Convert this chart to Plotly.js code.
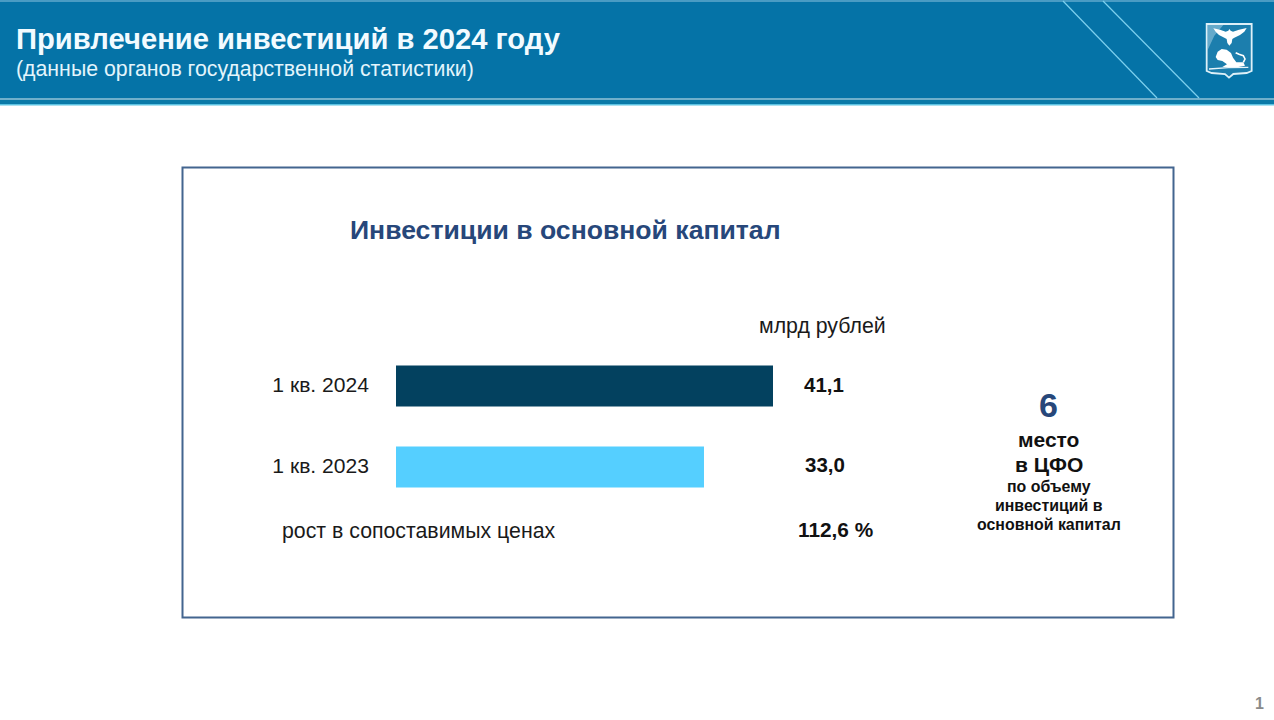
<!DOCTYPE html>
<html><head><meta charset="utf-8">
<style>html,body{margin:0;padding:0;background:#fff;overflow:hidden}#c{width:1274px;height:720px}</style>
<script src="https://cdn.plot.ly/plotly-3.0.1.min.js"></script></head>
<body><div id="c"></div>
<script>
const categories = ["1 кв. 2023", "1 кв. 2024"];
const values = [33.0, 41.1];
const valueLabels = ["33,0", "41,1"];
const barColors = ["#55CFFF", "#03415F"];
const growthLabel = "рост в сопоставимых ценах";
const growthValue = "112,6 %";
const unitLabel = "млрд рублей";
const rankValue = "6";
const W = 1274, H = 720;
const FONT = '"Liberation Sans", Arial, sans-serif';
const X0 = 396, X1 = 773, AXIS_MIN = -3.15;
const pxPerUnit = (X1 - X0) / (values[1] - AXIS_MIN);
const AXIS_MAX = AXIS_MIN + (1000 - X0) / pxPerUnit;
const px = x => x / W, py = y => 1 - y / H;
const rect = (x0, y0, x1, y1, fill, line) => ({type:'rect', xref:'paper', yref:'paper', layer:'below',
  x0:px(x0), x1:px(x1), y0:py(y1), y1:py(y0), fillcolor:fill, line: line || {width:0}});
const seg = (x0, y0, x1, y1, color, width) => ({type:'line', xref:'paper', yref:'paper', layer:'above',
  x0:px(x0), x1:px(x1), y0:py(y0), y1:py(y1), line:{color, width}});
// emblem outlines are given in a small local grid, 3 units per pixel
const em = p => [1195 + p[0] / 3, 15 + p[1] / 3];
const d = pts => 'M ' + pts.map(em).map(p => px(p[0]) + ' ' + py(p[1])).join(' L ');
const path = (pts, fill, lw, lc) => ({type:'path', xref:'paper', yref:'paper', layer:'above',
  path: d(pts) + ' Z', fillcolor: fill, line:{width: lw || 0, color: lc || fill}});
const stroke = (pts, color, lw) => ({type:'path', xref:'paper', yref:'paper', layer:'above',
  path: d(pts), fillcolor:'rgba(0,0,0,0)', line:{width: lw, color}});
const note = (x, y, text, size, color, bold, anchor) => ({xref:'paper', yref:'paper', x:px(x), y:py(y),
  text: bold ? '<b>' + text + '</b>' : text, showarrow:false, xanchor:anchor || 'center', yanchor:'middle',
  font:{family:FONT, size, color}});

const shapes = [
  rect(0, 0, W, 104, '#0573A7'),
  rect(0, 0, W, 2, '#4A9CC4'),
  rect(0, 98, W, 100, '#6FAFCB'),
  rect(0, 100, W, 104, '#0A7AA8'),
  rect(0, 104, W, 105.5, '#5CC3E2'),
  rect(182.5, 167.5, 1173.5, 617.5, 'rgba(0,0,0,0)', {color:'#43658F', width:2}),
  seg(1063, 1, 1157, 98, '#7DD0EE', 1.2),
  seg(1103, 1, 1199, 98, '#7DD0EE', 1.2),
  // coat of arms
  path([[35,27],[170,27],[170,168],[155,174],[115,177],[102,188],[90,177],[50,174],[35,168]], '#1C7EAD', 1.8, '#DDF0F8'),
  path([[38,30],[85,30],[58,62],[38,105]], 'rgba(190,225,240,0.45)'),
  path([[55,40],[75,44],[92,50],[100,47],[103,42],[107,47],[114,50],[132,44],[155,39],[148,50],[135,60],[118,68],[112,72],[110,84],[103,92],[97,84],[95,72],[88,68],[72,60],[62,50]], '#FFFFFF'),
  path([[62,126],[68,110],[80,102],[95,104],[108,114],[114,128],[124,142],[145,142],[150,152],[130,156],[82,156],[96,148],[82,138],[68,135]], '#FFFFFF'),
  stroke([[145,142],[150,132],[145,122],[132,118],[122,113]], '#FFFFFF', 1.6),
  path([[42,160],[100,156],[160,155],[160,159],[100,160],[42,164]], '#E8F4FA')
];

const annotations = [
  note(14, 39, 'Привлечение инвестиций в 2024 году', 29.2, '#F2FBFF', true, 'left'),
  note(14, 69, '(данные органов государственной статистики)', 21.3, '#E3F5FC', false, 'left'),
  note(348, 230, 'Инвестиции в основной капитал', 26.6, '#27477A', true, 'left'),
  note(822.5, 326, unitLabel, 21.3, '#1A1A1A'),
  note(824, 384.5, valueLabels[1], 20.5, '#111111', true),
  note(824.5, 464, valueLabels[0], 20.5, '#111111', true),
  note(280, 531, growthLabel, 21.3, '#1A1A1A', false, 'left'),
  note(835, 529.5, growthValue, 20.8, '#111111', true),
  note(1048, 405, rankValue, 34, '#27477A', true),
  note(1048.5, 439, 'место', 21, '#111111', true),
  note(1048.5, 464, 'в ЦФО', 21, '#111111', true),
  note(1048.5, 486.5, 'по объему', 15.9, '#111111', true),
  note(1048.5, 505.5, 'инвестиций в', 15.9, '#111111', true),
  note(1048.5, 524.5, 'основной капитал', 15.9, '#111111', true),
  note(1259, 703, '1', 16, '#8A8A8A', true)
];

const trace = {
  type:'bar', orientation:'h', y:categories,
  x: values.map(v => v - AXIS_MIN), base: AXIS_MIN,
  width:0.506, marker:{color:barColors, line:{width:0}},
  hoverinfo:'skip', showlegend:false
};
const layout = {
  width:W, height:H, margin:{l:0,r:0,t:0,b:0}, paper_bgcolor:'#FFFFFF', plot_bgcolor:'rgba(0,0,0,0)',
  showlegend:false, font:{family:FONT},
  xaxis:{domain:[px(X0), px(1000)], range:[AXIS_MIN, AXIS_MAX], visible:false, fixedrange:true},
  yaxis:{domain:[py(507.5), py(345.5)], type:'category', categoryorder:'array', categoryarray:categories,
    showgrid:false, zeroline:false, showline:false, ticks:'', ticklabelstandoff:26, ticklabelshift:-1,
    tickfont:{family:FONT, size:21.1, color:'#1A1A1A'}, fixedrange:true},
  shapes, annotations
};
Plotly.newPlot('c', [trace], layout, {displayModeBar:false, staticPlot:true});
</script></body></html>
